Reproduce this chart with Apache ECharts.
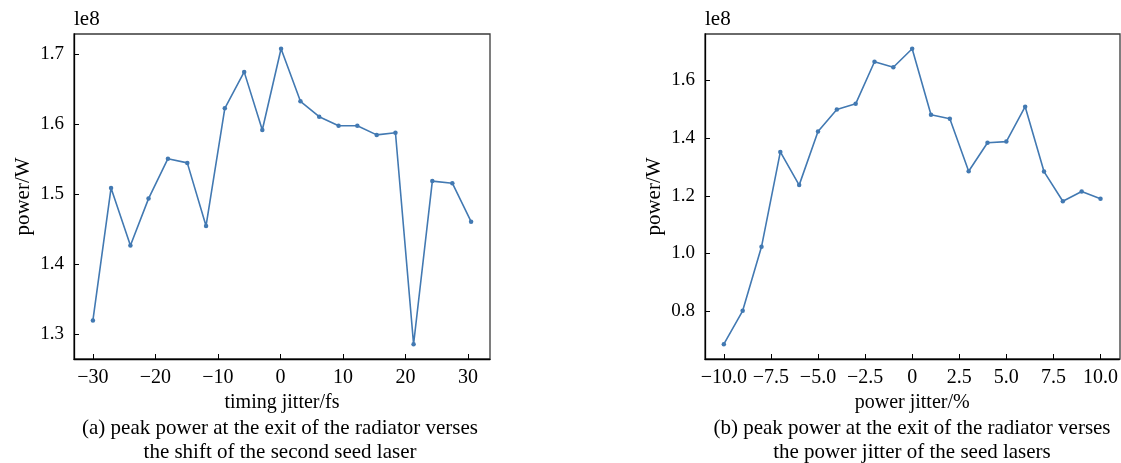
<!DOCTYPE html>
<html>
<head>
<meta charset="utf-8">
<script src="https://cdn.jsdelivr.net/npm/echarts@6/dist/echarts.min.js"></script>
<style>
html,body{margin:0;padding:0;background:#fff;}
#chart{width:1121px;height:463px;}
</style>
</head>
<body>
<div id="chart"></div>
<script>
// ---- data (a) ----
const timingJitter = [-30, -27.1, -24, -21.1, -18, -14.9, -11.9, -8.9, -5.8, -2.9, 0.1, 3.2, 6.2, 9.3, 12.3, 15.4, 18.4, 21.3, 24.3, 27.5, 30.5];
const timingPower = [1.320, 1.509, 1.427, 1.494, 1.551, 1.545, 1.455, 1.623, 1.675, 1.592, 1.708, 1.633, 1.611, 1.598, 1.598, 1.585, 1.588, 1.286, 1.519, 1.516, 1.461];
const timingXTicks = [-30, -20, -10, 0, 10, 20, 30];
const timingYTicks = [1.3, 1.4, 1.5, 1.6, 1.7];

// ---- data (b) ----
const powerJitter = [-10, -9, -8, -7, -6, -5, -4, -3, -2, -1, 0, 1, 2, 3, 4, 5, 6, 7, 8, 9, 10];
const jitterPower = [0.685, 0.801, 1.023, 1.352, 1.237, 1.423, 1.499, 1.519, 1.665, 1.646, 1.710, 1.481, 1.467, 1.285, 1.384, 1.388, 1.509, 1.284, 1.181, 1.215, 1.190];
const jitterXTicks = [-10, -7.5, -5, -2.5, 0, 2.5, 5, 7.5, 10];
const jitterXLabels = ['\u221210.0', '\u22127.5', '\u22125.0', '\u22122.5', '0', '2.5', '5.0', '7.5', '10.0'];
const jitterYTicks = [0.8, 1.0, 1.2, 1.4, 1.6];

const captionA = ['(a) peak power at the exit of the radiator verses', 'the shift of the second seed laser'];
const captionB = ['(b) peak power at the exit of the radiator verses', 'the power jitter of the seed lasers'];
const xNames = ['timing jitter/fs', 'power jitter/%'];
const yName = 'power/W';
const scaleName = 'le8';

function padRange(arr) {
  const mn = Math.min(...arr), mx = Math.max(...arr);
  const m = (mx - mn) * 0.05;
  return [mn - m, mx + m];
}

const FONT = 'Liberation Serif';
const FS_X = 20;    // x tick labels
const FS_Y = 19;    // y tick labels
const FS_NAME = 20; // axis names
const FS_CAP = 21;  // captions
const LINE = '#4279b2';

function xAxisCfg(idx, data, ticks, fmt, name) {
  const r = padRange(data);
  return {
    type: 'value', gridIndex: idx, min: r[0], max: r[1],
    name: name, nameLocation: 'middle', nameGap: 31,
    nameTextStyle: {fontFamily: FONT, fontSize: FS_NAME, color: '#000'},
    axisLine: {show: true, onZero: false, lineStyle: {color: '#000', width: 1.3}},
    axisTick: {show: true, inside: true, length: 5, customValues: ticks, lineStyle: {color: '#000', width: 1}},
    axisLabel: {customValues: ticks, formatter: fmt, fontFamily: FONT, fontSize: FS_X, color: '#000', margin: 9},
    splitLine: {show: false}
  };
}
function yAxisCfg(idx, data, ticks) {
  const r = padRange(data);
  return {
    type: 'value', gridIndex: idx, min: r[0], max: r[1],
    name: yName, nameLocation: 'middle', nameGap: 40, nameRotate: 90,
    nameTextStyle: {fontFamily: FONT, fontSize: 21, color: '#000'},
    axisLine: {show: true, onZero: false, lineStyle: {color: '#000', width: 1.3}},
    axisTick: {show: true, inside: true, length: 5, customValues: ticks, lineStyle: {color: '#000', width: 1}},
    axisLabel: {customValues: ticks, formatter: v => v.toFixed(1), fontFamily: FONT, fontSize: FS_Y, color: '#000', margin: 10},
    splitLine: {show: false}
  };
}

const minusFmt = v => String(v).replace('-', '\u2212');
const jitterFmt = v => {
  const i = jitterXTicks.findIndex(t => Math.abs(t - v) < 1e-6);
  return i >= 0 ? jitterXLabels[i] : String(v);
};

const grids = [
  {left: 74, top: 34, width: 416, height: 325},
  {left: 705, top: 34, width: 415, height: 325}
];

function textG(t, x, y, size, align) {
  return {type: 'text', silent: true, style: {text: t, x: x, y: y, textAlign: align, textVerticalAlign: 'middle', font: size + 'px "' + FONT + '"', fill: '#000'}};
}
function boxGraphic(g) {
  return {type: 'rect', silent: true, z: 0, shape: {x: g.left, y: g.top, width: g.width, height: g.height}, style: {fill: null, stroke: '#3a3a3a', lineWidth: 1.3}};
}

const option = {
  animation: false,
  backgroundColor: '#fff',
  grid: grids,
  xAxis: [
    xAxisCfg(0, timingJitter, timingXTicks, minusFmt, xNames[0]),
    xAxisCfg(1, powerJitter, jitterXTicks, jitterFmt, xNames[1])
  ],
  yAxis: [
    yAxisCfg(0, timingPower, timingYTicks),
    yAxisCfg(1, jitterPower, jitterYTicks)
  ],
  series: [
    {type: 'line', xAxisIndex: 0, yAxisIndex: 0, data: timingJitter.map((x, i) => [x, timingPower[i]]),
     symbol: 'circle', symbolSize: 4.5, showSymbol: true, lineStyle: {color: LINE, width: 1.6}, itemStyle: {color: LINE}},
    {type: 'line', xAxisIndex: 1, yAxisIndex: 1, data: powerJitter.map((x, i) => [x, jitterPower[i]]),
     symbol: 'circle', symbolSize: 4.5, showSymbol: true, lineStyle: {color: LINE, width: 1.6}, itemStyle: {color: LINE}}
  ],
  graphic: [
    boxGraphic(grids[0]), boxGraphic(grids[1]),
    textG(scaleName, 74, 19, 21, 'left'), textG(scaleName, 705, 19, 21, 'left'),
    ...captionA.map((t, i) => textG(t, 280, 428 + i * 24, FS_CAP, 'center')),
    ...captionB.map((t, i) => textG(t, 912, 428 + i * 24, FS_CAP, 'center'))
  ]
};

const chart = echarts.init(document.getElementById('chart'), null, {renderer: 'canvas'});
chart.setOption(option);
</script>
</body>
</html>
